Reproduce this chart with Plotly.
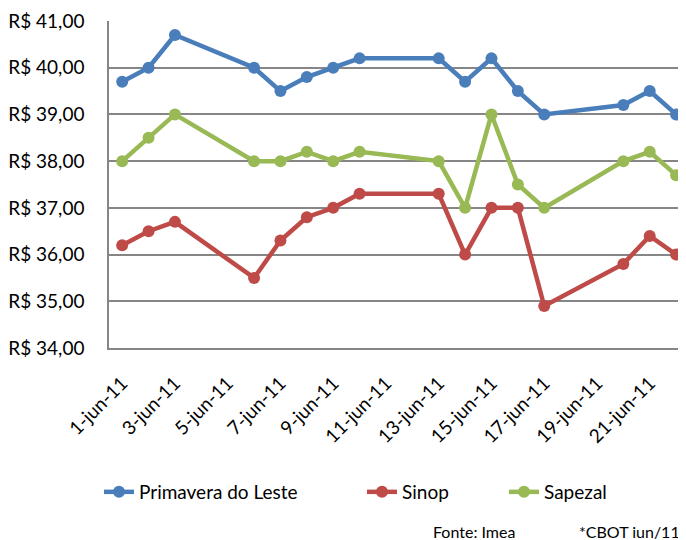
import plotly.graph_objects as go

dates = ["2011-06-01", "2011-06-02", "2011-06-03", "2011-06-06", "2011-06-07",
         "2011-06-08", "2011-06-09", "2011-06-10", "2011-06-13", "2011-06-14",
         "2011-06-15", "2011-06-16", "2011-06-17", "2011-06-20", "2011-06-21",
         "2011-06-22"]
primavera = [39.7, 40.0, 40.7, 40.0, 39.5, 39.8, 40.0, 40.2, 40.2, 39.7,
             40.2, 39.5, 39.0, 39.2, 39.5, 39.0]
sinop = [36.2, 36.5, 36.7, 35.5, 36.3, 36.8, 37.0, 37.3, 37.3, 36.0,
         37.0, 37.0, 34.9, 35.8, 36.4, 36.0]
sapezal = [38.0, 38.5, 39.0, 38.0, 38.0, 38.2, 38.0, 38.2, 38.0, 37.0,
           39.0, 37.5, 37.0, 38.0, 38.2, 37.7]

series_names = ["Primavera do Leste", "Sinop", "Sapezal"]
series_colors = ["#4A7EBB", "#BE4B48", "#98B954"]

x_tick_vals = ["2011-06-01", "2011-06-03", "2011-06-05", "2011-06-07", "2011-06-09",
               "2011-06-11", "2011-06-13", "2011-06-15", "2011-06-17", "2011-06-19",
               "2011-06-21"]
x_tick_text = ["1-jun-11", "3-jun-11", "5-jun-11", "7-jun-11", "9-jun-11",
               "11-jun-11", "13-jun-11", "15-jun-11", "17-jun-11", "19-jun-11",
               "21-jun-11"]
y_tick_vals = [34, 35, 36, 37, 38, 39, 40, 41]
y_tick_text = ["R$ 34,00", "R$ 35,00", "R$ 36,00", "R$ 37,00", "R$ 38,00",
               "R$ 39,00", "R$ 40,00", "R$ 41,00"]

FONT = "Lato, 'Open Sans', sans-serif"

# the page body has an 8px margin; figure is sized to fill the rest of the window
OFF = 8
W, H = 686 - OFF, 540 - OFF
# plot area in page pixels
L, R, T, B = 109, 686, 21, 348
PW, PH = R - L, B - T


def px_x(p):
    return (p - L) / PW


def px_y(p):
    return (B - p) / PH


legend_names = ["legend", "legend2", "legend3"]
legend_left_px = [99, 362, 504]

fig = go.Figure()
for name, vals, col, lg in zip(series_names, [primavera, sinop, sapezal], series_colors, legend_names):
    fig.add_trace(go.Scatter(
        x=dates, y=vals, name=name, mode="lines+markers",
        line=dict(color=col, width=4.5),
        marker=dict(color=col, size=12),
        legend=lg,
    ))

legend_common = dict(orientation="h", yanchor="middle", xanchor="left",
                     font=dict(size=19), bgcolor="rgba(0,0,0,0)")
layout_legends = {}
for lg, lx in zip(legend_names, legend_left_px):
    layout_legends[lg] = dict(legend_common, x=px_x(lx), y=px_y(492))

fig.update_layout(
    width=W, height=H,
    margin=dict(l=L - OFF, r=686 - R, t=T - OFF, b=540 - B, autoexpand=False),
    paper_bgcolor="white", plot_bgcolor="white",
    font=dict(family=FONT, size=19, color="#000000"),
    showlegend=True,
    **layout_legends,
    xaxis=dict(
        type="date", range=["2011-05-31 12:00", "2011-06-22 09:00"],
        tickvals=x_tick_vals, ticktext=x_tick_text, tickangle=-45,
        showgrid=False, showline=True, linecolor="#868686", linewidth=1.5,
        ticks="", ticklabelstandoff=15, tickfont=dict(size=19),
        zeroline=False, automargin=False,
    ),
    yaxis=dict(
        range=[34, 41], tickvals=y_tick_vals, ticktext=y_tick_text,
        showgrid=True, gridcolor="#868686", gridwidth=1.5,
        showline=True, linecolor="#868686", linewidth=1.5,
        ticks="", ticklabelstandoff=19, tickfont=dict(size=19),
        zeroline=False, automargin=False,
    ),
    annotations=[
        dict(text="Fonte: Imea", xref="paper", yref="paper", x=px_x(431),
             y=px_y(531), xanchor="left", yanchor="middle", showarrow=False,
             font=dict(size=16)),
        dict(text="*CBOT iun/11", xref="paper", yref="paper", x=px_x(682),
             y=px_y(531), xanchor="right", yanchor="middle", showarrow=False,
             font=dict(size=16)),
    ],
)

fig.write_html("out.html")
